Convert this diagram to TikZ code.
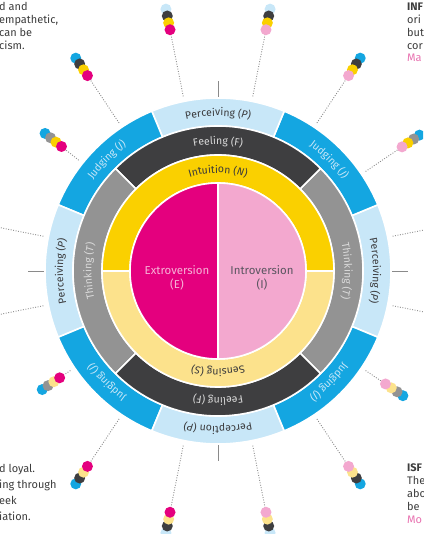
\documentclass[tikz,border=0pt]{standalone}
\usepackage{fontspec}
\setmainfont{Fira Sans}
\setsansfont{Fira Sans}
\usetikzlibrary{decorations.text}

\definecolor{pLight}{HTML}{C8E7F8}
\definecolor{pBlue}{HTML}{14A6E1}
\definecolor{fDark}{HTML}{3E3E40}
\definecolor{tGray}{HTML}{939393}
\definecolor{nYel}{HTML}{FAD000}
\definecolor{sYel}{HTML}{FCE28C}
\definecolor{eMag}{HTML}{E4007E}
\definecolor{iPink}{HTML}{F3A8CF}
\definecolor{inkDark}{HTML}{3A3A3C}
\definecolor{inkLight}{HTML}{DADADA}
\definecolor{inkBlue}{HTML}{C8E7F8}
\definecolor{inkPink}{HTML}{F6B3D7}
\definecolor{inkIntro}{HTML}{5A5560}
\definecolor{noteInk}{HTML}{3C3C3C}
\definecolor{notePink}{HTML}{E872B0}
\definecolor{spokeInk}{HTML}{8A8A8A}

\newcommand\lblfont{\fontsize{10.5}{12}\selectfont}

% annular sector: colour, start angle, end angle, inner radius, outer radius
\newcommand\annsec[5]{%
  \fill[#1, sectorrim] (#2:#4) arc[start angle=#2, end angle=#3, radius=#4]
    -- (#3:#5) arc[start angle=#3, end angle=#2, radius=#5] -- cycle;}

% label set along a clockwise arc: centre angle, baseline radius, colour, word, letter, letter style
\newcommand\arclabel[6]{%
  \path[decorate, decoration={text along path, text align=center,
      text={|\lblfont\color{#3}|#4 (|\lblfont\color{#3}#6|#5|\lblfont\color{#3}|)}}]
    (#1+60:#2) arc[start angle=#1+60, end angle=#1-60, radius=#2];}

% dotted spoke and four type dots: angle, radius of innermost dot, four colours
\newcommand\typedots[6]{%
  \draw[spoke] (#1:178) -- (#1:#2);
  \fill[#6] (#1:#2+21) circle[radius=5.5];
  \fill[#5] (#1:#2+14) circle[radius=5.5];
  \fill[#4] (#1:#2+7) circle[radius=5.5];
  \fill[#3] (#1:#2) circle[radius=5.5];}

\tikzset{
  sectorrim/.style={draw=white, line width=1.6bp},
  spoke/.style={spokeInk, line width=0.9bp, dash pattern=on 0.9bp off 1.6bp},
  tick/.style={spokeInk, line width=0.7bp},
  note/.style={font=\fontsize{11}{13}\selectfont, text=noteInk, inner sep=0pt},
  notehead/.style={note, font=\fontsize{11}{13}\selectfont\bfseries},
  coretext/.style={font=\fontsize{11.5}{14}\selectfont, align=center, inner sep=0pt},
}

\begin{document}
\begin{tikzpicture}[x=1bp, y=1bp]
\useasboundingbox (0,0) rectangle (423,534);
\clip (0,0) rectangle (423,534);

% side notes, cut by the page edge
\node[note, anchor=base west] (nl1) at (-1,523) {d and};
\node[note, anchor=base west] (nl2) at (-1,510) {empathetic,};
\node[note, anchor=base west] (nl3) at (-1,497) {can be};
\node[note, anchor=base west] (nl4) at (-1,484) {cism.};

\node[notehead, anchor=base west] (nr1) at (407,523) {INF};
\node[note, anchor=base west] (nr2) at (407,510) {ori};
\node[note, anchor=base west] (nr3) at (407,497) {but};
\node[note, anchor=base west] (nr4) at (407,484) {cor};
\node[note, anchor=base west, text=notePink] (nr5) at (407,472) {Ma};

\node[note, anchor=base west] (bl1) at (-1,61) {d loyal.};
\node[note, anchor=base west] (bl2) at (-1,45) {ing through};
\node[note, anchor=base west] (bl3) at (-1,29) {eek};
\node[note, anchor=base west] (bl4) at (-1,13) {iation.};

\node[notehead, anchor=base west] (br1) at (407,62) {ISF};
\node[note, anchor=base west] (br2) at (407,49) {The};
\node[note, anchor=base west] (br3) at (407,36) {abo};
\node[note, anchor=base west] (br4) at (407,23) {be};
\node[note, anchor=base west, text=notePink] (br5) at (407,10) {Mo};

\begin{scope}[shift={(218,263)}]
  % spokes running off the page on both sides
  \foreach \a in {11.25,168.75,191.25,348.75} {
    \draw[spoke] (\a:178) -- (\a:300);
  }
  % short ticks on the axes
  \foreach \a in {0,90,180,270} {
    \draw[tick] (\a:174) -- (\a:190);
  }

  % outer ring: judging / perceiving
  \annsec{pLight}{-22.5}{22.5}{145}{173}
  \annsec{pBlue}{22.5}{67.5}{145}{173}
  \annsec{pLight}{67.5}{112.5}{145}{173}
  \annsec{pBlue}{112.5}{157.5}{145}{173}
  \annsec{pLight}{157.5}{202.5}{145}{173}
  \annsec{pBlue}{202.5}{247.5}{145}{173}
  \annsec{pLight}{247.5}{292.5}{145}{173}
  \annsec{pBlue}{292.5}{337.5}{145}{173}

  % middle ring: thinking / feeling
  \annsec{tGray}{-45}{45}{116}{145}
  \annsec{fDark}{45}{135}{116}{145}
  \annsec{tGray}{135}{225}{116}{145}
  \annsec{fDark}{225}{315}{116}{145}

  % inner ring: intuition / sensing
  \annsec{nYel}{0}{180}{88}{116}
  \annsec{sYel}{180}{360}{88}{116}

  % core: extroversion / introversion
  \fill[eMag, sectorrim] (0,0) -- (90:88) arc[start angle=90, end angle=270, radius=88] -- cycle;
  \fill[iPink, sectorrim] (0,0) -- (-90:88) arc[start angle=-90, end angle=90, radius=88] -- cycle;

  % ring labels
  \arclabel{90}{155}{inkDark}{Perceiving}{P}{\itshape}
  \arclabel{0}{155}{inkDark}{Perceiving}{P}{\itshape}
  \arclabel{180}{155}{inkDark}{Perceiving}{P}{\itshape}
  \arclabel{270}{155}{inkDark}{Perception}{P}{\itshape}
  \arclabel{45}{155}{inkBlue}{Judging}{J}{\itshape}
  \arclabel{135}{155}{inkBlue}{Judging}{J}{\itshape}
  \arclabel{225}{155}{inkBlue}{Judging}{J}{\itshape}
  \arclabel{315}{155}{inkBlue}{Judging}{J}{\itshape}

  \arclabel{90}{126.5}{inkLight}{Feeling}{F}{}
  \arclabel{270}{126.5}{inkLight}{Feeling}{F}{}
  \arclabel{0}{126.5}{inkLight}{Thinking}{T}{\itshape}
  \arclabel{180}{126.5}{inkLight}{Thinking}{T}{\itshape}

  \arclabel{90}{98}{inkDark}{Intuition}{N}{\itshape}
  \arclabel{270}{98}{inkDark}{Sensing}{S}{\itshape}

  \node[coretext, text=inkPink] (extro) at (-41,-7) {Extroversion\\(E)};
  \node[coretext, text=inkIntro] (intro) at (44,-7) {Introversion\\(I)};

  % type dots, innermost letter first
  \typedots{101.25}{246}{eMag}{nYel}{fDark}{pLight}
  \typedots{78.75}{246}{iPink}{nYel}{fDark}{pLight}
  \typedots{123.75}{235}{eMag}{nYel}{fDark}{pBlue}
  \typedots{56.25}{235}{iPink}{nYel}{fDark}{pBlue}
  \typedots{141.5}{200}{eMag}{nYel}{tGray}{pBlue}
  \typedots{34}{222}{iPink}{nYel}{tGray}{pBlue}
  \typedots{214}{191}{eMag}{sYel}{tGray}{pBlue}
  \typedots{326}{202}{iPink}{sYel}{tGray}{pBlue}
  \typedots{236.25}{235}{eMag}{sYel}{fDark}{pBlue}
  \typedots{303.75}{235}{iPink}{sYel}{fDark}{pBlue}
  \typedots{258.75}{246}{eMag}{sYel}{fDark}{pLight}
  \typedots{281.25}{246}{iPink}{sYel}{fDark}{pLight}
\end{scope}
\end{tikzpicture}
\end{document}
